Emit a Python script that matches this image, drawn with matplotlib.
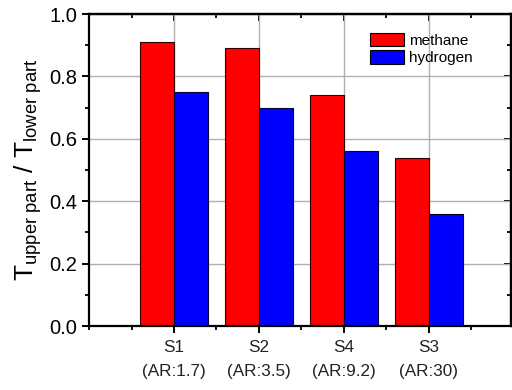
import matplotlib
matplotlib.use("Agg")
import matplotlib.pyplot as plt
import numpy as np
from matplotlib.ticker import MultipleLocator

plt.rcParams["font.family"] = ["Liberation Sans", "DejaVu Sans"]
plt.rcParams["mathtext.fontset"] = "custom"
plt.rcParams["mathtext.rm"] = "Liberation Sans"
plt.rcParams["mathtext.it"] = "Liberation Sans"

categories = ["S1\n(AR:1.7)", "S2\n(AR:3.5)", "S4\n(AR:9.2)", "S3\n(AR:30)"]
methane = [0.91, 0.89, 0.74, 0.54]
hydrogen = [0.75, 0.70, 0.56, 0.36]

fig = plt.figure(figsize=(5.12, 3.9), dpi=100)
ax = fig.add_axes([0.174, 0.164, 0.824, 0.800])

x = np.arange(1, len(categories) + 1)
w = 0.4
ax.bar(x - w / 2, methane, w, color="#ff0000", edgecolor="#330000", linewidth=0.8,
       label="methane", zorder=2)
ax.bar(x + w / 2, hydrogen, w, color="#0000ff", edgecolor="#000033", linewidth=0.8,
       label="hydrogen", zorder=2)

ax.set_xlim(0, 4.97)
ax.set_ylim(0, 1.0)
ax.set_xticks(x)
ax.set_xticklabels(categories, fontsize=12.3, color="#222222", linespacing=1.75)
ax.xaxis.set_minor_locator(MultipleLocator(0.5))
ax.set_yticks(np.arange(0, 1.01, 0.2))
ax.set_yticklabels([f"{v:.1f}" for v in np.arange(0, 1.01, 0.2)], fontsize=14.5)
ax.yaxis.set_minor_locator(MultipleLocator(0.1))

ax.grid(True, which="major", color="#b0b0b0", linewidth=1.0, zorder=0)
ax.set_axisbelow(True)

ax.tick_params(which="major", direction="out", length=5, width=1.4)
ax.tick_params(which="minor", direction="out", length=3, width=1.3)
ax.tick_params(axis="x", which="major", pad=5)

# top and right axes carry inward ticks
top = ax.secondary_xaxis("top")
top.set_xticks(x)
top.xaxis.set_minor_locator(MultipleLocator(0.5))
top.tick_params(which="major", direction="in", length=5, width=1.4, labeltop=False)
top.tick_params(which="minor", direction="in", length=3, width=1.3)
right = ax.secondary_yaxis("right")
right.set_yticks(np.arange(0, 1.01, 0.2))
right.yaxis.set_minor_locator(MultipleLocator(0.1))
right.tick_params(which="major", direction="in", length=5, width=1.4, labelright=False)
right.tick_params(which="minor", direction="in", length=3, width=1.3)

for sp in ax.spines.values():
    sp.set_linewidth(1.6)
top.spines["top"].set_linewidth(1.6)
right.spines["right"].set_linewidth(1.6)

ax.set_ylabel(r"$\mathregular{T_{upper\ part}\ /\ T_{lower\ part}}$", fontsize=19, labelpad=4)

leg = ax.legend(loc="upper right", bbox_to_anchor=(0.935, 0.975), frameon=False, fontsize=11,
                handlelength=2.2, handleheight=1.0, handletextpad=0.35, labelspacing=0.15,
                borderpad=0.2)
for p in leg.get_patches():
    p.set_edgecolor("black")

fig.savefig("out.png", dpi=100)
